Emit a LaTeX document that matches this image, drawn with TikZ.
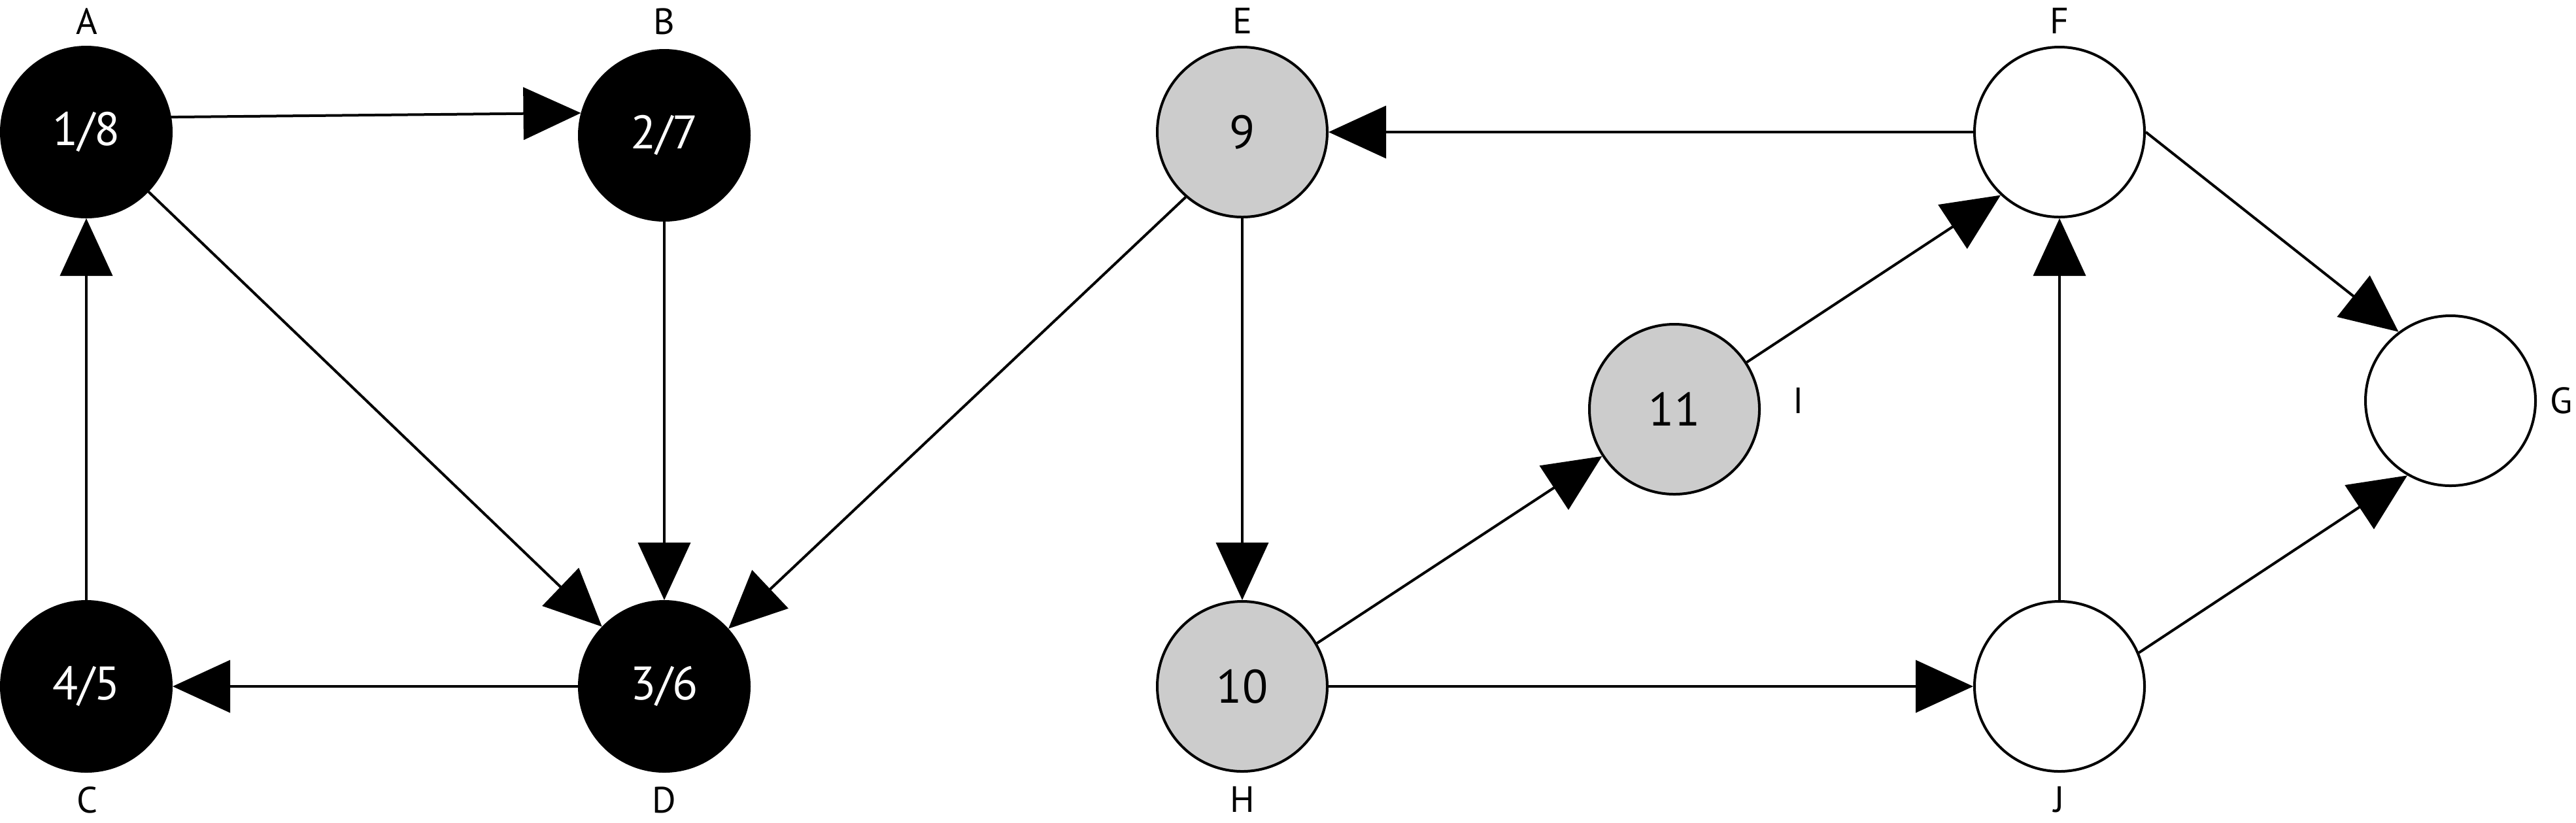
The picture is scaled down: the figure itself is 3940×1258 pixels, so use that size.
\documentclass[tikz,border=0pt]{standalone}
\usepackage{fontspec}
\setmainfont{PT Sans}
\usetikzlibrary{arrows.meta}
\definecolor{nodegray}{HTML}{CCCCCC}
\begin{document}
\begin{tikzpicture}[x=0.25pt,y=-0.25pt,
  vtx/.style={circle,draw=black,line width=1pt,minimum size=65pt,inner sep=0pt,font=\fontsize{18}{20}\selectfont},
  done/.style={vtx,fill=black,text=white},
  seen/.style={vtx,fill=nodegray},
  fresh/.style={vtx,fill=white},
  lbl/.style={font=\fontsize{14}{16}\selectfont,inner sep=0pt},
  edge/.style={line width=1pt,-{Triangle[length=22pt,width=20pt]}}]
\useasboundingbox (0,0) rectangle (3940,1258);
% vertices
\node[done]  (A) at (132,202)  {1/8};
\node[done]  (B) at (1016,207) {2/7};
\node[done]  (C) at (132,1050) {4/5};
\node[done]  (D) at (1016,1050) {3/6};
\node[seen]  (E) at (1900,202) {9};
\node[fresh] (F) at (3150,202) {};
\node[fresh] (G) at (3748,613) {};
\node[seen]  (H) at (1900,1050) {10};
\node[seen]  (I) at (2561,626) {11};
\node[fresh] (J) at (3150,1050) {};
% labels
\node[lbl] (lA) at (133,33) {A};
\node[lbl] (lB) at (1016,33) {B};
\node[lbl] (lE) at (1900,32) {E};
\node[lbl] (lF) at (3150,32) {F};
\node[lbl] (lC) at (133,1224) {C};
\node[lbl] (lD) at (1016,1224) {D};
\node[lbl] (lH) at (1900,1223) {H};
\node[lbl] (lJ) at (3150,1223) {J};
\node[lbl] (lI) at (2751,613) {I};
\node[lbl] (lG) at (3918,613) {G};
% edges
\draw[edge] (A.10) -- (B.165);
\draw[edge] (A) -- (D);
\draw[edge] (B) -- (D);
\draw[edge] (C) -- (A);
\draw[edge] (D) -- (C);
\draw[edge] (E.-131) -- (D.42);
\draw[edge] (E) -- (H);
\draw[edge] (F) -- (E);
\draw[edge] (F.east) -- (G.127);
\draw[edge] (I.33) -- (F.227);
\draw[edge] (H.30) -- (I.213);
\draw[edge] (H) -- (J);
\draw[edge] (J) -- (F);
\draw[edge] (J.23) -- (G.240);
\end{tikzpicture}
\end{document}
